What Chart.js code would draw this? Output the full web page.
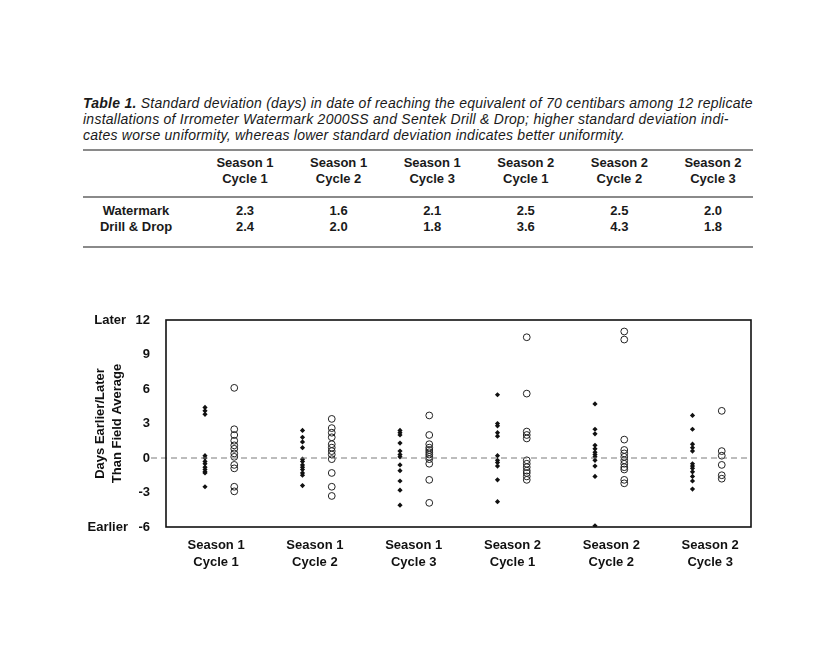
<!DOCTYPE html>
<html lang="en">
<head>
    <meta charset="UTF-8">
    <title>Table 1 and sensor scatter</title>
    <script src="https://cdn.jsdelivr.net/npm/chart.js"></script>
    <style>
        body {
            margin: 0;
            padding: 0;
            background: #ffffff;
            font-family: 'Liberation Sans', Arial, sans-serif;
            color: #1a1a1a;
        }
        #page {
            position: relative;
            width: 830px;
            height: 668px;
            overflow: hidden;
        }
        /* Table caption */
        .caption {
            position: absolute;
            left: 83px;
            top: 95px;
            font-size: 14px;
            letter-spacing: 0.25px;
            line-height: 16px;
            font-style: italic;
            white-space: nowrap;
        }
        .rule {
            position: absolute;
            left: 83px;
            width: 670px;
            background: #8a8a8a;
        }
        .cell {
            position: absolute;
            width: 110px;
            text-align: center;
            font-size: 13px;
            line-height: 16px;
            font-weight: bold;
            white-space: nowrap;
        }
        canvas {
            position: absolute;
            left: 0;
            top: 0;
        }
    </style>
</head>
<body>
<div id="page">
    <div class="caption">
        <b>Table 1.</b> Standard deviation (days) in date of reaching the equivalent of 70 centibars among 12 replicate<br>
        installations of Irrometer Watermark 2000SS and Sentek Drill &amp; Drop; higher standard deviation indi-<br>
        cates worse uniformity, whereas lower standard deviation indicates better uniformity.
    </div>
    <div class="rule" style="top:149px;height:2px;"></div>
    <div class="rule" style="top:196px;height:1.5px;"></div>
    <div class="rule" style="top:246px;height:2px;"></div>
    <div id="tabla"></div>
    <canvas id="grafica" width="830" height="668"></canvas>
</div>
<script>
    // Categories (season / cycle)
    const categories = [
        ['Season 1', 'Cycle 1'],
        ['Season 1', 'Cycle 2'],
        ['Season 1', 'Cycle 3'],
        ['Season 2', 'Cycle 1'],
        ['Season 2', 'Cycle 2'],
        ['Season 2', 'Cycle 3']
    ];

    // Table 1: standard deviation (days)
    const sdWatermark = ['2.3', '1.6', '2.1', '2.5', '2.5', '2.0'];
    const sdDrillDrop = ['2.4', '2.0', '1.8', '3.6', '4.3', '1.8'];

    // Days earlier/later than field average, one list per category
    const watermark = [
        [4.4, 4.1, 3.8, 0.2, 0.0, -0.3, -0.5, -0.8, -1.0, -1.2, -1.3, -2.5],
        [2.4, 1.8, 1.4, 0.9, -0.1, -0.3, -0.6, -0.8, -1.0, -1.3, -1.5, -2.4],
        [2.4, 2.2, 2.0, 1.3, 0.6, 0.3, 0.1, -0.6, -1.1, -2.0, -2.8, -4.1],
        [5.5, 3.0, 2.8, 2.2, 1.9, 0.2, -0.2, -0.4, -0.7, -1.9, -3.8],
        [4.7, 2.5, 2.1, 1.1, 0.8, 0.5, 0.3, 0.1, -0.2, -0.7, -1.6, -5.9],
        [3.7, 2.5, 1.2, 0.9, 0.6, -0.5, -0.7, -0.9, -1.2, -1.6, -2.0, -2.7]
    ];
    const drillDrop = [
        [6.1, 2.5, 2.0, 1.5, 1.1, 0.8, 0.4, 0.1, -0.6, -0.9, -2.5, -2.9],
        [3.4, 2.6, 2.2, 1.8, 1.2, 0.9, 0.6, 0.3, -0.1, -1.3, -2.5, -3.3],
        [3.7, 2.0, 1.2, 0.9, 0.7, 0.5, 0.3, 0.1, -0.1, -0.5, -1.9, -3.9],
        [10.5, 5.6, 2.3, 2.0, 1.7, -0.2, -0.5, -0.8, -1.1, -1.3, -1.6, -1.9],
        [11.0, 10.3, 1.6, 0.7, 0.4, 0.1, -0.2, -0.5, -0.8, -1.0, -1.9, -2.2],
        [4.1, 0.6, 0.2, -0.6, -1.5, -1.8]
    ];

    const yTicks = [12, 9, 6, 3, 0, -3, -6];

    // Build the table
    const tabla = document.getElementById('tabla');
    function celda(left, top, html) {
        const d = document.createElement('div');
        d.className = 'cell';
        d.style.left = left + 'px';
        d.style.top = top + 'px';
        d.innerHTML = html;
        tabla.appendChild(d);
    }
    celda(81, 203, 'Watermark<br>Drill &amp; Drop');
    categories.forEach((c, i) => {
        const cx = 245 + i * 93.6;
        celda(cx - 55, 155, c[0] + '<br>' + c[1]);
        celda(cx - 55, 203, sdWatermark[i] + '<br>' + sdDrillDrop[i]);
    });

    const FONT = "'Liberation Sans', Arial, sans-serif";

    // Points: Watermark slightly left of each category, Drill & Drop to the right
    const wmPoints = [];
    const ddPoints = [];
    watermark.forEach((vals, i) => vals.forEach(v => wmPoints.push({x: i + 1 - 0.1, y: v})));
    drillDrop.forEach((vals, i) => vals.forEach(v => ddPoints.push({x: i + 1 + 0.2, y: v})));

    // Box, dashed zero line and Later / Earlier labels
    const extras = {
        id: 'extras',
        afterDraw(chart) {
            const {ctx, chartArea, scales} = chart;
            const y0 = scales.y.getPixelForValue(0);
            ctx.save();
            ctx.strokeStyle = '#7a7a7a';
            ctx.lineWidth = 1;
            ctx.setLineDash([6, 4]);
            ctx.beginPath();
            ctx.moveTo(chartArea.left - 15, y0);
            ctx.lineTo(chartArea.right, y0);
            ctx.stroke();
            ctx.setLineDash([]);

            ctx.strokeStyle = '#111';
            ctx.lineWidth = 1.6;
            ctx.strokeRect(chartArea.left, chartArea.top, chartArea.right - chartArea.left, chartArea.bottom - chartArea.top);

            ctx.fillStyle = '#111';
            ctx.font = 'bold 13px ' + FONT;
            ctx.textAlign = 'right';
            ctx.textBaseline = 'middle';
            ctx.fillText('Later', chartArea.left - 40, scales.y.getPixelForValue(12));
            ctx.fillText('Earlier', chartArea.left - 38, scales.y.getPixelForValue(-6));
            ctx.restore();
        }
    };

    new Chart(document.getElementById('grafica').getContext('2d'), {
        type: 'scatter',
        data: {
            datasets: [
                {
                    label: 'Watermark',
                    data: wmPoints,
                    pointStyle: 'rectRot',
                    pointRadius: 2.6,
                    backgroundColor: '#111',
                    borderColor: '#111',
                    borderWidth: 0
                },
                {
                    label: 'Drill & Drop',
                    data: ddPoints,
                    pointStyle: 'circle',
                    pointRadius: 3.4,
                    backgroundColor: 'rgba(255,255,255,0)',
                    borderColor: '#222',
                    borderWidth: 1
                }
            ]
        },
        options: {
            responsive: false,
            animation: false,
            layout: {
                padding: {left: 76, right: 79, top: 320, bottom: 81}
            },
            plugins: {
                legend: {display: false},
                tooltip: {enabled: false}
            },
            scales: {
                x: {
                    type: 'linear',
                    min: 0.5,
                    max: 6.5,
                    grid: {display: false, drawTicks: false},
                    border: {display: false},
                    // labels sit a touch right of the point pairs, as in the original
                    afterBuildTicks: (scale) => {
                        scale.ticks = categories.map((c, i) => ({value: (i + 1) * 1.0135}));
                    },
                    afterFit: (scale) => { scale.height = 60; },
                    ticks: {
                        autoSkip: false,
                        maxRotation: 0,
                        padding: 10,
                        color: '#111',
                        font: {family: FONT, size: 13, weight: 'bold', lineHeight: 1.3},
                        callback: (v) => categories[Math.round(v) - 1]
                    }
                },
                y: {
                    min: -6,
                    max: 12,
                    grid: {display: false, drawTicks: false},
                    border: {display: false},
                    afterBuildTicks: (scale) => {
                        scale.ticks = yTicks.map(v => ({value: v}));
                    },
                    afterFit: (scale) => { scale.width = 90; },
                    ticks: {
                        padding: 16,
                        color: '#111',
                        font: {family: FONT, size: 13, weight: 'bold'}
                    },
                    title: {
                        display: true,
                        text: ['Days Earlier/Later', 'Than Field Average'],
                        color: '#111',
                        padding: {top: 16, bottom: 0},
                        font: {family: FONT, size: 13, weight: 'bold', lineHeight: 1.3}
                    }
                }
            }
        },
        plugins: [extras]
    });
</script>
</body>
</html>
